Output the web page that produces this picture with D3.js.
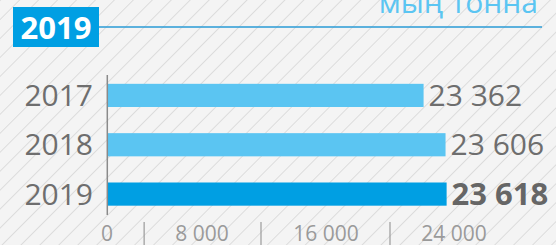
<!DOCTYPE html>
<html>
<head>
<meta charset="utf-8">
<script src="https://cdn.jsdelivr.net/npm/d3@7"></script>
<style>
  html, body { margin: 0; padding: 0; background: #f4f4f4; }
  svg { display: block; font-family: "Open Sans", "Noto Sans", sans-serif; }
</style>
</head>
<body>
<div id="chart"></div>
<script>
// data
var years = ["2017", "2018", "2019"];
var values = [23362, 23606, 23618];
var valueLabels = ["23 362", "23 606", "23 618"];
var tickValues = [0, 8000, 16000, 24000];
var tickLabels = ["0", "8 000", "16 000", "24 000"];
var titleText = "2019";
var unitText = "мың тонна";

var width = 556,
    height = 245;

var svg = d3.select("#chart")
  .append("svg")
    .attr("width", width)
    .attr("height", height);

// hatched background
var defs = svg.append("defs");
defs.append("pattern")
    .attr("id", "hatch")
    .attr("patternUnits", "userSpaceOnUse")
    .attr("width", 13.4)
    .attr("height", 13.4)
    .attr("patternTransform", "rotate(45)")
  .append("line")
    .attr("x1", 0).attr("y1", 0)
    .attr("x2", 0).attr("y2", 13.4)
    .attr("stroke", "#cfcfcf")
    .attr("stroke-width", 1.3);

svg.append("rect")
    .attr("width", width)
    .attr("height", height)
    .attr("fill", "#f4f4f4");
svg.append("rect")
    .attr("width", width)
    .attr("height", height)
    .attr("fill", "url(#hatch)");

// scales
// the bars use a broken scale: the last thousand is stretched so the small differences show
var x = d3.scaleLinear()
  .domain([0, 23000, 24000])
  .range([108, 391, 481]);

// tick labels sit in uneven bands under the bars
var xTick = d3.scaleLinear()
  .domain(tickValues)
  .range([107, 202, 326, 454]);

var y = d3.scaleBand()
  .domain(years)
  .range([70.5, 219])
  .paddingInner(0.53)
  .paddingOuter(0.27);

var rows = years.map(function(d, i) {
  return { year: d, value: values[i], label: valueLabels[i], current: d === titleText };
});

// header: year box, rule and unit
svg.append("line")
    .attr("x1", 99).attr("x2", 542)
    .attr("y1", 27).attr("y2", 27)
    .attr("stroke", "#2a9bd6")
    .attr("stroke-width", 1.5);

svg.append("rect")
    .attr("x", 13).attr("y", 7)
    .attr("width", 86).attr("height", 40)
    .attr("fill", "#009fe3");

svg.append("text")
    .attr("x", 56).attr("y", 39)
    .attr("text-anchor", "middle")
    .attr("fill", "white")
    .style("font-size", "31px")
    .style("font-weight", "bold")
    .text(titleText);

svg.append("text")
    .attr("x", 538).attr("y", 13)
    .attr("text-anchor", "end")
    .attr("fill", "#5bc5f2")
    .style("font-size", "30px")
    .text(unitText);

// bars
svg.selectAll(".bar")
  .data(rows)
  .enter()
  .append("rect")
    .attr("class", "bar")
    .attr("x", x(0))
    .attr("y", function(d) { return y(d.year); })
    .attr("width", function(d) { return x(d.value) - x(0); })
    .attr("height", y.bandwidth())
    .attr("fill", function(d) { return d.current ? "#009fe3" : "#5bc5f2"; });

// vertical axis line
svg.append("line")
    .attr("x1", x(0) - 0.7).attr("x2", x(0) - 0.7)
    .attr("y1", y.range()[0] + 4.5)
    .attr("y2", y.range()[1] - 4)
    .attr("stroke", "#8a8a8a")
    .attr("stroke-width", 1.5);

// year labels
svg.selectAll(".year")
  .data(rows)
  .enter()
  .append("text")
    .attr("class", "year")
    .attr("x", 93)
    .attr("y", function(d) { return y(d.year) + y.bandwidth() / 2 + 10.7; })
    .attr("text-anchor", "end")
    .attr("fill", "#6e6e6e")
    .style("font-size", "30px")
    .text(function(d) { return d.year; });

// value labels
svg.selectAll(".value")
  .data(rows)
  .enter()
  .append("text")
    .attr("class", "value")
    .attr("x", function(d) { return x(d.value) + 5; })
    .attr("y", function(d) { return y(d.year) + y.bandwidth() / 2 + 10.7; })
    .attr("fill", function(d) { return d.current ? "#666" : "#6e6e6e"; })
    .style("font-size", function(d) { return d.current ? "31px" : "30px"; })
    .style("font-weight", function(d) { return d.current ? "bold" : "normal"; })
    .text(function(d) { return d.label; });

// bottom tick labels
var ticks = svg.selectAll(".tick")
  .data(tickValues)
  .enter()
  .append("text")
    .attr("class", "tick")
    .attr("x", function(d) { return xTick(d); })
    .attr("y", 240.5)
    .attr("text-anchor", "middle")
    .attr("fill", "#9a9a9a")
    .style("font-size", "21px")
    .text(function(d, i) { return tickLabels[i]; });

// separators centred in the gaps between tick labels
var boxes = [];
ticks.each(function() { boxes.push(this.getBBox()); });
var gaps = d3.pairs(boxes).map(function(p) {
  return (p[0].x + p[0].width + p[1].x) / 2;
});

svg.selectAll(".sep")
  .data(gaps)
  .enter()
  .append("line")
    .attr("class", "sep")
    .attr("x1", function(d) { return d; })
    .attr("x2", function(d) { return d; })
    .attr("y1", 222)
    .attr("y2", 246)
    .attr("stroke", "#9a9a9a")
    .attr("stroke-width", 1.2);
</script>
</body>
</html>
